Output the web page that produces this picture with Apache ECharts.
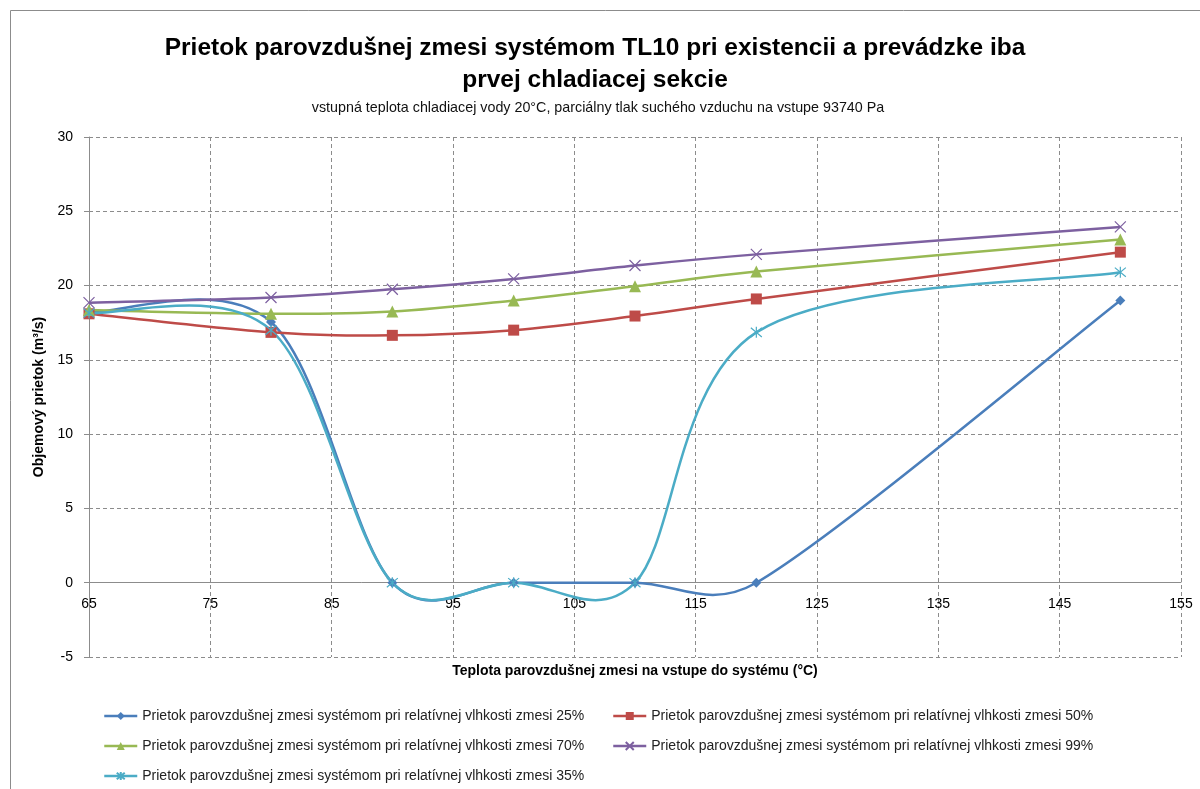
<!DOCTYPE html>
<html>
<head>
<meta charset="utf-8">
<script src="https://cdn.jsdelivr.net/npm/echarts@6/dist/echarts.min.js"></script>
<style>
  html, body { margin: 0; padding: 0; background: #fff; }
  #chart { width: 1200px; height: 789px; }
</style>
</head>
<body>
<div id="chart"></div>
<script>
// ── Data ────────────────────────────────────────────────────────────────
const temps = [65, 80, 90, 100, 110, 120, 150];
const flow25 = [18.2, 17.55, 0, 0, 0, 0, 19.0];
const flow50 = [18.1, 16.85, 16.65, 17.0, 17.95, 19.1, 22.25];
const flow70 = [18.35, 18.1, 18.25, 19.0, 19.95, 20.95, 23.1];
const flow99 = [18.85, 19.2, 19.75, 20.45, 21.35, 22.1, 23.95];
const flow35 = [18.15, 17.0, 0, 0, 0, 16.85, 20.9];

const xTicksStart = 65;      // first x tick label (65, 75, ... 155)
const xSpan = 90;
const yTicks = [-5, 30, 5];  // min, max, interval

const FONT = "'Liberation Sans', Arial, sans-serif";
const NAME_PREFIX = 'Prietok parovzdušnej zmesi systémom pri relatívnej vlhkosti zmesi ';

// x axis runs 0..90 and labels add 65, so ticks land on 65, 75, ... 155
const toPts = (ys) => ys.map((y, i) => [temps[i] - xTicksStart, y]);

const X_MARK = 'path://M0,0L10,10M10,0L0,10';
const STAR_MARK = 'path://M0,0L10,10M10,0L0,10M5,-1L5,11';

// ── Excel-like smoothed curve ───────────────────────────────────────────
// Catmull-Rom in pixel space (control arm = neighbour chord / 6), with the
// arm capped to a share of the segment it bends — close to what Excel does,
// including the small dips below zero.
const ARM_CAP = 0.45;

function smoothPath(pts) {
  const n = pts.length;
  const seg = (i, j) => Math.hypot(pts[j][0] - pts[i][0], pts[j][1] - pts[i][1]);
  const arm = (i, segLen) => {
    const p0 = pts[Math.max(0, i - 1)];
    const p2 = pts[Math.min(n - 1, i + 1)];
    let ax = (p2[0] - p0[0]) / 6, ay = (p2[1] - p0[1]) / 6;
    const len = Math.hypot(ax, ay), cap = ARM_CAP * segLen;
    if (len > cap && len > 0) { ax *= cap / len; ay *= cap / len; }
    return [ax, ay];
  };
  let d = 'M' + pts[0][0] + ',' + pts[0][1];
  for (let i = 0; i < n - 1; i++) {
    const p = pts[i], q = pts[i + 1];
    const L = seg(i, i + 1);
    const a = arm(i, L), b = arm(i + 1, L);
    d += 'C' + (p[0] + a[0]) + ',' + (p[1] + a[1]) + ',' +
         (q[0] - b[0]) + ',' + (q[1] - b[1]) + ',' + q[0] + ',' + q[1];
  }
  return d;
}

function curveSeries(ys, color) {
  const data = toPts(ys);
  return {
    type: 'custom',
    data: [data[0]],
    silent: true,
    z: 1,
    renderItem: (params, api) => {
      const px = data.map((p) => api.coord(p));
      return {
        type: 'path',
        shape: { pathData: smoothPath(px) },
        style: { stroke: color, lineWidth: 2.5, fill: 'none' }
      };
    }
  };
}

function markerSeries(pct, ys, color, symbol, size, strokeOnly) {
  return {
    name: NAME_PREFIX + pct,
    type: 'line',
    data: toPts(ys),
    symbol: symbol,
    symbolSize: size,
    showAllSymbol: true,
    lineStyle: { color: color, width: 2.5, opacity: 0 },
    itemStyle: strokeOnly
      ? { color: color, borderColor: color, borderWidth: 1.2 }
      : { color: color, borderWidth: 0 },
    emphasis: { disabled: true },
    z: 3
  };
}

const series = [
  curveSeries(flow25, '#4a7ebb'),
  curveSeries(flow50, '#be4b48'),
  curveSeries(flow70, '#98b954'),
  curveSeries(flow99, '#7d60a0'),
  curveSeries(flow35, '#4bacc6'),
  markerSeries('25%', flow25, '#4a7ebb', 'diamond', 10, false),
  markerSeries('50%', flow50, '#be4b48', 'rect', 11, false),
  markerSeries('70%', flow70, '#98b954', 'triangle', 12, false),
  markerSeries('99%', flow99, '#7d60a0', X_MARK, 11, true),
  markerSeries('35%', flow35, '#4bacc6', STAR_MARK, 11, true)
];

const legendBase = {
  orient: 'vertical',
  top: 709,
  height: 90,
  padding: 0,
  itemGap: 16,
  itemWidth: 33,
  itemHeight: 10,
  lineStyle: { width: 2.5, opacity: 1 },
  textStyle: { fontFamily: FONT, fontSize: 14, color: '#222' },
  selectedMode: false
};

const chart = echarts.init(document.getElementById('chart'), null, { renderer: 'canvas' });

chart.setOption({
  animation: false,
  backgroundColor: '#fff',
  graphic: [{
    type: 'rect',
    shape: { x: 10.5, y: 10.5, width: 1200, height: 800 },
    style: { fill: 'none', stroke: '#8c8c8c', lineWidth: 1 },
    silent: true
  }],
  title: [{
    text: 'Prietok parovzdušnej zmesi systémom TL10 pri existencii a prevádzke iba\nprvej chladiacej sekcie',
    left: 590, top: 27, textAlign: 'center',
    textStyle: { fontFamily: FONT, fontSize: 24.5, fontWeight: 'bold', color: '#000', lineHeight: 32 }
  }, {
    text: 'vstupná teplota chladiacej vody 20°C, parciálny tlak suchého vzduchu na vstupe 93740 Pa',
    left: 593, top: 96, textAlign: 'center',
    textStyle: { fontFamily: FONT, fontSize: 14.3, fontWeight: 'normal', color: '#111' }
  }],
  grid: { left: 89, right: 19, top: 137, bottom: 132, containLabel: false },
  xAxis: {
    type: 'value',
    min: 0, max: xSpan, interval: 10,
    name: 'Teplota parovzdušnej zmesi na vstupe do systému (°C)',
    nameLocation: 'middle',
    nameGap: 81,
    nameTextStyle: { fontFamily: FONT, fontSize: 14, fontWeight: 'bold', color: '#000' },
    // sit the axis on y = 0 like the original (offset = 5 units of 520/35 px)
    offset: -74.3,
    axisLine: { onZero: false, lineStyle: { color: '#8c8c8c', width: 1 } },
    axisTick: { show: false },
    axisLabel: {
      formatter: (v) => String(v + xTicksStart),
      fontFamily: FONT, fontSize: 14, color: '#000', margin: 14
    },
    splitLine: { show: true, lineStyle: { color: '#8c8c8c', type: [4, 3], width: 1 } }
  },
  yAxis: {
    type: 'value',
    min: yTicks[0], max: yTicks[1], interval: yTicks[2],
    name: 'Objemový prietok (m³/s)',
    nameLocation: 'middle',
    nameGap: 33,
    nameTextStyle: { fontFamily: FONT, fontSize: 14, fontWeight: 'bold', color: '#000' },
    axisLine: { show: true, lineStyle: { color: '#8c8c8c', width: 1 } },
    axisTick: { show: true, length: 5, inside: false, lineStyle: { color: '#8c8c8c' } },
    axisLabel: { fontFamily: FONT, fontSize: 14, color: '#000', margin: 16 },
    splitLine: { show: true, lineStyle: { color: '#8c8c8c', type: [4, 3], width: 1 } }
  },
  legend: [
    Object.assign({}, legendBase, {
      left: 103,
      data: [NAME_PREFIX + '25%', NAME_PREFIX + '70%', NAME_PREFIX + '35%']
    }),
    Object.assign({}, legendBase, {
      left: 612,
      data: [NAME_PREFIX + '50%', NAME_PREFIX + '99%']
    })
  ],
  series: series
});
</script>
</body>
</html>
